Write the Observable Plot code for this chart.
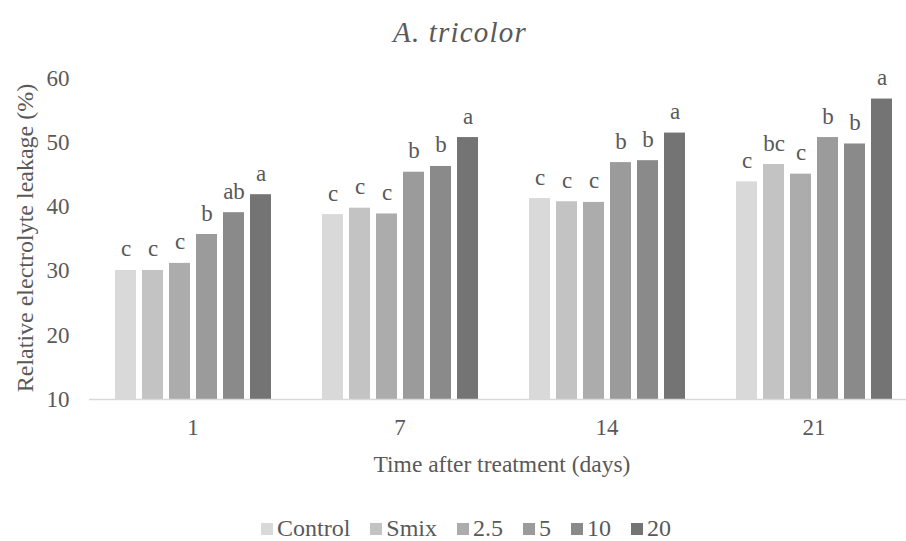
<!DOCTYPE html>
<html>
<head>
<meta charset="utf-8">
<script src="https://cdn.jsdelivr.net/npm/d3@7"></script>
<script src="https://cdn.jsdelivr.net/npm/@observablehq/plot@0.6"></script>
<style>
  html, body { margin: 0; padding: 0; background: #fff; overflow: hidden; }
  #wrap { position: relative; width: 906px; height: 541px; overflow: hidden; font-family: "Liberation Serif", "DejaVu Serif", serif; color: #595959; }
  #title { position: absolute; left: 0; top: 18px; width: 920px; text-align: center; font-size: 29px; line-height: 29px; font-style: italic; letter-spacing: 1.2px; }
  #chart { position: absolute; left: 0; top: 0; width: 930px; }
  #chart svg { max-width: none !important; width: 930px; height: 480px; }
  #xlabel { position: absolute; left: 0; top: 452px; width: 1004px; text-align: center; font-size: 23.5px; line-height: 24px; }
  #ylabel { position: absolute; left: 25px; top: 238px; width: 0; height: 0; }
  #ylabel span { position: absolute; left: 0; top: 0; transform: translate(-50%, -50%) rotate(-90deg); white-space: nowrap; font-size: 24px; line-height: 24px; display: block; transform-origin: center center; }
  #legend { position: absolute; left: 0; top: 516px; width: 932px; display: flex; justify-content: center; font-size: 24px; line-height: 24px; }
  .item { display: flex; align-items: center; margin: 0 10px; }
  .sw { width: 12px; height: 12px; margin-right: 4px; margin-top: 2px; }
</style>
</head>
<body>
<div id="wrap">
  <div id="chart"></div>
  <div id="title">A. tricolor</div>
  <div id="xlabel">Time after treatment (days)</div>
  <div id="ylabel"><span>Relative electrolyte leakage (%)</span></div>
  <div id="legend"></div>
</div>
<script>
const days = ["1", "7", "14", "21"];
const treatments = ["Control", "Smix", "2.5", "5", "10", "20"];
const colors = ["#d9d9d9", "#c3c3c3", "#acacac", "#9b9b9b", "#8a8a8a", "#747474"];
const control = [30.1, 38.8, 41.3, 43.9];
const smix = [30.1, 39.8, 40.8, 46.6];
const t2_5 = [31.2, 38.9, 40.7, 45.1];
const t5 = [35.7, 45.4, 46.9, 50.8];
const t10 = [39.1, 46.3, 47.2, 49.8];
const t20 = [41.9, 50.8, 51.5, 56.8];
const letters = [
  ["c", "c", "c", "c"],
  ["c", "c", "c", "bc"],
  ["c", "c", "c", "c"],
  ["b", "b", "b", "b"],
  ["ab", "b", "b", "b"],
  ["a", "a", "a", "a"]
];
const yTicks = [10, 20, 30, 40, 50, 60];

const series = [control, smix, t2_5, t5, t10, t20];
const data = [];
days.forEach((d, i) => {
  treatments.forEach((t, j) => {
    data.push({day: d, treatment: t, value: series[j][i], letter: letters[j][i]});
  });
});

const font = '"Liberation Serif", "DejaVu Serif", serif';
const chart = Plot.plot({
  width: 930,
  height: 480,
  marginTop: 78,
  marginBottom: 81,
  marginLeft: 88,
  marginRight: 13,
  style: {fontFamily: font, fontSize: "23px", color: "#595959", background: "transparent", overflow: "visible"},
  fx: {domain: days, padding: 0, axis: "bottom", tickSize: 0, tickPadding: 19, label: null},
  x: {domain: treatments, axis: null, paddingInner: 0.23, paddingOuter: 0.84},
  y: {domain: [10, 60], ticks: yTicks, tickSize: 0, tickPadding: 20, label: null},
  color: {domain: treatments, range: colors},
  marks: [
    Plot.barY(data, {fx: "day", x: "treatment", y1: 10, y2: "value", fill: "treatment"}),
    Plot.ruleY([10], {stroke: "#d9d9d9", strokeWidth: 1.5}),
    Plot.text(data, {fx: "day", x: "treatment", y: "value", text: "letter", lineAnchor: "bottom", dy: -14, fill: "#595959", fontSize: 23, fontFamily: font})
  ]
});
document.getElementById("chart").appendChild(chart);

const legend = document.getElementById("legend");
treatments.forEach((t, j) => {
  const it = document.createElement("div");
  it.className = "item";
  const sw = document.createElement("div");
  sw.className = "sw";
  sw.style.background = colors[j];
  const lb = document.createElement("span");
  lb.textContent = t;
  it.appendChild(sw);
  it.appendChild(lb);
  legend.appendChild(it);
});
</script>
</body>
</html>
